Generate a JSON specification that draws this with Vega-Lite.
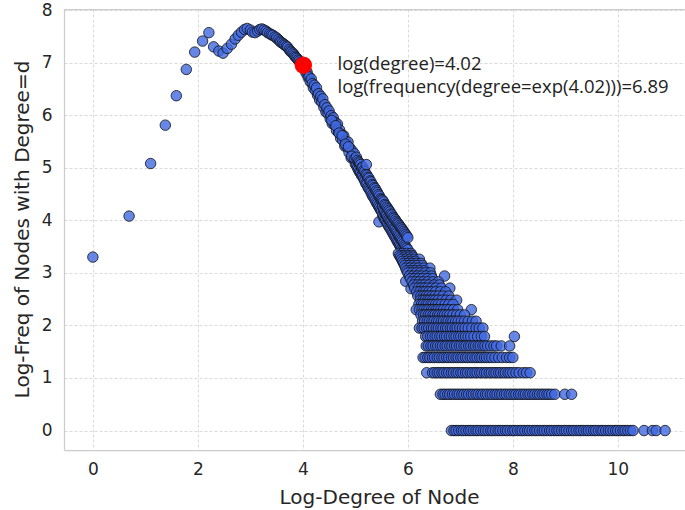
{
"$schema":"https://vega.github.io/schema/vega-lite/v6.json",
"width":621,"height":441,
"autosize":{"type":"none"},
"padding":{"left":64,"top":9,"right":0,"bottom":60},
"background":"#ffffff",
"config":{"view":{"stroke":null},
"axis":{"labelFont":"DejaVu Sans","labelFontSize":17,"labelColor":"#262626","titleFont":"DejaVu Sans","titleFontSize":20,"titleFontWeight":"normal","titleColor":"#262626","domainColor":"#cccccc","domainWidth":1.25,"ticks":false,"gridColor":"#d0d0d0","gridDash":[3,2],"gridWidth":0.8}},
"datasets":{
"pts":[
{"x":0,"y":3.3},{"x":0.69,"y":4.08},{"x":1.1,"y":5.08},{"x":1.38,"y":5.81},{"x":1.59,"y":6.37},{"x":1.78,"y":6.87},{"x":1.94,"y":7.2},{"x":2.09,"y":7.41},{"x":2.21,"y":7.57},
{"x":2.3,"y":7.3},{"x":2.4,"y":7.22},{"x":2.48,"y":7.18},{"x":2.56,"y":7.27},{"x":2.64,"y":7.35},{"x":2.71,"y":7.45},{"x":2.77,"y":7.52},{"x":2.83,"y":7.58},{"x":2.89,"y":7.63},{"x":2.94,"y":7.65},{"x":3.0,"y":7.62},{"x":3.04,"y":7.58},{"x":3.09,"y":7.57},{"x":3.14,"y":7.6},{"x":3.18,"y":7.63},{"x":3.22,"y":7.64},{"x":3.26,"y":7.62},{"x":3.3,"y":7.6},{"x":3.33,"y":7.57},{"x":3.37,"y":7.55},{"x":3.4,"y":7.53},{"x":3.43,"y":7.52},{"x":3.47,"y":7.49},{"x":3.5,"y":7.47},{"x":3.53,"y":7.44},{"x":3.56,"y":7.41},{"x":3.58,"y":7.39},{"x":3.61,"y":7.37},{"x":3.64,"y":7.35},{"x":3.66,"y":7.33},{"x":3.69,"y":7.31},{"x":3.71,"y":7.29},{"x":3.74,"y":7.25},{"x":3.76,"y":7.22},{"x":3.78,"y":7.2},{"x":3.81,"y":7.18},{"x":3.83,"y":7.15},{"x":3.85,"y":7.12},{"x":3.87,"y":7.1},{"x":3.89,"y":7.08},{"x":3.91,"y":7.05},{"x":3.93,"y":7.03},{"x":3.95,"y":7.0},{"x":3.97,"y":6.98},{"x":3.99,"y":6.96},{"x":4.01,"y":6.93},
{"x":4.04,"y":6.89},{"x":4.06,"y":6.8},{"x":4.08,"y":6.82},{"x":4.1,"y":6.72},{"x":4.12,"y":6.73},{"x":4.14,"y":6.64},{"x":4.16,"y":6.69},{"x":4.18,"y":6.6},{"x":4.2,"y":6.52},{"x":4.22,"y":6.57},{"x":4.24,"y":6.47},{"x":4.26,"y":6.52},{"x":4.28,"y":6.38},{"x":4.3,"y":6.41},{"x":4.32,"y":6.29},{"x":4.34,"y":6.36},{"x":4.36,"y":6.25},{"x":4.38,"y":6.31},{"x":4.4,"y":6.15},{"x":4.42,"y":6.2},{"x":4.44,"y":6.06},{"x":4.46,"y":6.14},{"x":4.48,"y":6.03},{"x":4.5,"y":6.08},{"x":4.52,"y":5.93},{"x":4.54,"y":5.99},{"x":4.56,"y":5.84},{"x":4.58,"y":5.95},{"x":4.6,"y":5.82},{"x":4.62,"y":5.86},{"x":4.64,"y":5.71},{"x":4.66,"y":5.83},{"x":4.68,"y":5.67},{"x":4.7,"y":5.72},{"x":4.72,"y":5.56},{"x":4.74,"y":5.63},{"x":4.76,"y":5.52},{"x":4.78,"y":5.61},{"x":4.8,"y":5.41},{"x":4.82,"y":5.5},{"x":4.84,"y":5.4},{"x":4.86,"y":5.49},{"x":4.88,"y":5.29},{"x":4.9,"y":5.37},{"x":4.92,"y":5.19},{"x":4.94,"y":5.32},{"x":4.96,"y":5.18},{"x":4.98,"y":5.27},{"x":5.0,"y":5.07},
{"x":4.55,"y":5.9},{"x":4.63,"y":5.8},{"x":4.69,"y":5.66},{"x":4.75,"y":5.61},{"x":4.81,"y":5.45},{"x":4.87,"y":5.4},{"x":4.93,"y":5.22},{"x":4.99,"y":5.17},
{"x":5.02,"y":5.2},{"x":5.02,"y":5.05},{"x":5.04,"y":5.0},{"x":5.04,"y":5.14},{"x":5.06,"y":5.11},{"x":5.06,"y":4.96},{"x":5.08,"y":4.92},{"x":5.08,"y":5.09},{"x":5.1,"y":5.06},{"x":5.1,"y":4.9},{"x":5.12,"y":4.85},{"x":5.12,"y":5.0},{"x":5.14,"y":5.01},{"x":5.14,"y":4.84},{"x":5.16,"y":4.79},{"x":5.16,"y":4.95},{"x":5.18,"y":4.93},{"x":5.18,"y":4.75},{"x":5.2,"y":4.7},{"x":5.2,"y":4.88},{"x":5.21,"y":5.06},{"x":5.22,"y":4.86},{"x":5.22,"y":4.69},{"x":5.24,"y":4.63},{"x":5.24,"y":4.82},{"x":5.26,"y":4.8},{"x":5.26,"y":4.6},{"x":5.28,"y":4.57},{"x":5.28,"y":4.75},{"x":5.3,"y":4.73},{"x":5.3,"y":4.53},{"x":5.32,"y":4.48},{"x":5.32,"y":4.68},{"x":5.34,"y":4.66},{"x":5.34,"y":4.45},{"x":5.36,"y":4.42},{"x":5.36,"y":4.62},{"x":5.38,"y":4.6},{"x":5.38,"y":4.38},{"x":5.4,"y":4.34},{"x":5.4,"y":4.56},{"x":5.42,"y":4.53},{"x":5.42,"y":4.31},{"x":5.44,"y":4.27},{"x":5.44,"y":4.49},{"x":5.45,"y":3.97},{"x":5.46,"y":4.46},{"x":5.46,"y":4.24},{"x":5.48,"y":4.2},{"x":5.48,"y":4.41},{"x":5.5,"y":4.39},{"x":5.5,"y":4.17},
{"x":5.52,"y":4.1},{"x":5.52,"y":4.27},{"x":5.52,"y":4.38},{"x":5.54,"y":4.35},{"x":5.54,"y":4.06},{"x":5.54,"y":4.2},{"x":5.56,"y":4.02},{"x":5.56,"y":4.3},{"x":5.56,"y":4.16},{"x":5.58,"y":4.28},{"x":5.58,"y":4.0},{"x":5.58,"y":4.12},{"x":5.6,"y":3.95},{"x":5.6,"y":4.25},{"x":5.6,"y":4.1},{"x":5.62,"y":4.22},{"x":5.62,"y":3.92},{"x":5.62,"y":4.05},{"x":5.64,"y":3.88},{"x":5.64,"y":4.19},{"x":5.64,"y":4.02},{"x":5.66,"y":4.16},{"x":5.66,"y":3.85},{"x":5.66,"y":3.99},{"x":5.68,"y":3.82},{"x":5.68,"y":4.12},{"x":5.68,"y":3.97},{"x":5.7,"y":4.1},{"x":5.7,"y":3.78},{"x":5.7,"y":3.93},{"x":5.72,"y":3.75},{"x":5.72,"y":4.06},{"x":5.72,"y":3.9},{"x":5.74,"y":4.04},{"x":5.74,"y":3.71},{"x":5.74,"y":3.86},{"x":5.76,"y":3.68},{"x":5.76,"y":4.01},{"x":5.76,"y":3.84},{"x":5.78,"y":3.98},{"x":5.78,"y":3.64},{"x":5.78,"y":3.8},{"x":5.8,"y":3.6},{"x":5.8,"y":3.95},{"x":5.8,"y":3.77},{"x":5.82,"y":3.93},{"x":5.82,"y":3.57},{"x":5.82,"y":3.73},{"x":5.84,"y":3.53},{"x":5.84,"y":3.9},{"x":5.84,"y":3.7},{"x":5.86,"y":3.87},{"x":5.86,"y":3.5},{"x":5.86,"y":3.66},{"x":5.88,"y":3.46},{"x":5.88,"y":3.85},{"x":5.88,"y":3.63},{"x":5.9,"y":3.82},{"x":5.9,"y":3.43},{"x":5.9,"y":3.6},{"x":5.92,"y":3.4},{"x":5.92,"y":3.79},{"x":5.92,"y":3.56},{"x":5.94,"y":3.76},{"x":5.94,"y":3.36},{"x":5.94,"y":3.53},{"x":5.96,"y":3.33},{"x":5.96,"y":3.73},{"x":5.96,"y":3.5},{"x":5.98,"y":3.7},{"x":5.98,"y":3.3},{"x":5.98,"y":3.47},{"x":6.0,"y":3.27},{"x":6.0,"y":3.67},{"x":6.0,"y":3.44},
{"x":5.96,"y":2.84},{"x":6.06,"y":2.7},
{"x":5.82,"y":3.37},{"x":5.9,"y":3.37},{"x":5.98,"y":3.37},{"x":6.06,"y":3.37},
{"x":5.84,"y":3.33},{"x":5.92,"y":3.33},{"x":6.0,"y":3.33},{"x":6.08,"y":3.33},
{"x":5.86,"y":3.3},{"x":5.94,"y":3.3},{"x":6.02,"y":3.3},{"x":6.1,"y":3.3},
{"x":5.88,"y":3.26},{"x":5.96,"y":3.26},{"x":6.04,"y":3.26},{"x":6.12,"y":3.26},{"x":6.22,"y":3.26},
{"x":5.9,"y":3.22},{"x":5.98,"y":3.22},{"x":6.06,"y":3.22},{"x":6.14,"y":3.22},
{"x":5.92,"y":3.18},{"x":6.0,"y":3.18},{"x":6.08,"y":3.18},{"x":6.16,"y":3.18},{"x":6.25,"y":3.18},
{"x":5.94,"y":3.14},{"x":6.02,"y":3.14},{"x":6.1,"y":3.14},{"x":6.18,"y":3.14},{"x":6.28,"y":3.14},
{"x":5.96,"y":3.09},{"x":6.04,"y":3.09},{"x":6.12,"y":3.09},{"x":6.2,"y":3.09},{"x":6.3,"y":3.09},{"x":6.42,"y":3.09},
{"x":5.98,"y":3.04},{"x":6.06,"y":3.04},{"x":6.14,"y":3.04},{"x":6.22,"y":3.04},{"x":6.31,"y":3.04},
{"x":6.0,"y":3.0},{"x":6.08,"y":3.0},{"x":6.16,"y":3.0},{"x":6.24,"y":3.0},{"x":6.33,"y":3.0},{"x":6.43,"y":3.0},
{"x":6.03,"y":2.94},{"x":6.1,"y":2.94},{"x":6.18,"y":2.94},{"x":6.26,"y":2.94},{"x":6.35,"y":2.94},{"x":6.45,"y":2.94},{"x":6.7,"y":2.94},
{"x":6.05,"y":2.89},{"x":6.12,"y":2.89},{"x":6.2,"y":2.89},{"x":6.28,"y":2.89},{"x":6.37,"y":2.89},{"x":6.47,"y":2.89},
{"x":6.08,"y":2.83},{"x":6.15,"y":2.83},{"x":6.22,"y":2.83},{"x":6.3,"y":2.83},{"x":6.38,"y":2.83},{"x":6.48,"y":2.83},{"x":6.58,"y":2.83},
{"x":6.11,"y":2.77},{"x":6.18,"y":2.77},{"x":6.25,"y":2.77},{"x":6.32,"y":2.77},{"x":6.4,"y":2.77},{"x":6.5,"y":2.77},{"x":6.6,"y":2.77},
{"x":6.13,"y":2.71},{"x":6.2,"y":2.71},{"x":6.26,"y":2.71},{"x":6.32,"y":2.71},{"x":6.38,"y":2.71},{"x":6.45,"y":2.71},{"x":6.53,"y":2.71},{"x":6.64,"y":2.71},{"x":6.8,"y":2.71},
{"x":6.17,"y":2.64},{"x":6.23,"y":2.64},{"x":6.29,"y":2.64},{"x":6.34,"y":2.64},{"x":6.4,"y":2.64},{"x":6.46,"y":2.64},{"x":6.53,"y":2.64},{"x":6.62,"y":2.64},{"x":6.72,"y":2.64},
{"x":6.19,"y":2.56},{"x":6.25,"y":2.56},{"x":6.3,"y":2.56},{"x":6.35,"y":2.56},{"x":6.4,"y":2.56},{"x":6.46,"y":2.56},{"x":6.52,"y":2.56},{"x":6.59,"y":2.56},{"x":6.67,"y":2.56},{"x":6.78,"y":2.56},
{"x":6.24,"y":2.48},{"x":6.29,"y":2.48},{"x":6.33,"y":2.48},{"x":6.38,"y":2.48},{"x":6.42,"y":2.48},{"x":6.47,"y":2.48},{"x":6.52,"y":2.48},{"x":6.58,"y":2.48},{"x":6.65,"y":2.48},{"x":6.73,"y":2.48},{"x":6.82,"y":2.48},{"x":6.93,"y":2.48},
{"x":6.21,"y":2.4},{"x":6.26,"y":2.4},{"x":6.3,"y":2.4},{"x":6.35,"y":2.4},{"x":6.39,"y":2.4},{"x":6.44,"y":2.4},{"x":6.48,"y":2.4},{"x":6.53,"y":2.4},{"x":6.58,"y":2.4},{"x":6.64,"y":2.4},{"x":6.71,"y":2.4},{"x":6.78,"y":2.4},{"x":6.86,"y":2.4},
{"x":6.16,"y":2.3},{"x":6.22,"y":2.3},{"x":6.27,"y":2.3},{"x":6.31,"y":2.3},{"x":6.36,"y":2.3},{"x":6.4,"y":2.3},{"x":6.45,"y":2.3},{"x":6.49,"y":2.3},{"x":6.54,"y":2.3},{"x":6.58,"y":2.3},{"x":6.63,"y":2.3},{"x":6.68,"y":2.3},{"x":6.74,"y":2.3},{"x":6.8,"y":2.3},{"x":6.87,"y":2.3},{"x":6.95,"y":2.3},{"x":7.21,"y":2.3},
{"x":6.25,"y":2.2},{"x":6.3,"y":2.2},{"x":6.34,"y":2.2},{"x":6.39,"y":2.2},{"x":6.43,"y":2.2},{"x":6.48,"y":2.2},{"x":6.52,"y":2.2},{"x":6.57,"y":2.2},{"x":6.61,"y":2.2},{"x":6.66,"y":2.2},{"x":6.7,"y":2.2},{"x":6.75,"y":2.2},{"x":6.8,"y":2.2},{"x":6.86,"y":2.2},{"x":6.93,"y":2.2},{"x":7.0,"y":2.2},{"x":7.08,"y":2.2},
{"x":6.28,"y":2.08},{"x":6.32,"y":2.08},{"x":6.37,"y":2.08},{"x":6.41,"y":2.08},{"x":6.46,"y":2.08},{"x":6.5,"y":2.08},{"x":6.55,"y":2.08},{"x":6.59,"y":2.08},{"x":6.64,"y":2.08},{"x":6.68,"y":2.08},{"x":6.73,"y":2.08},{"x":6.77,"y":2.08},{"x":6.82,"y":2.08},{"x":6.86,"y":2.08},{"x":6.91,"y":2.08},{"x":6.96,"y":2.08},{"x":7.02,"y":2.08},{"x":7.08,"y":2.08},{"x":7.15,"y":2.08},{"x":7.23,"y":2.08},{"x":7.3,"y":2.08},
{"x":6.22,"y":1.95},{"x":6.27,"y":1.95},{"x":6.31,"y":1.95},{"x":6.36,"y":1.95},{"x":6.4,"y":1.95},{"x":6.45,"y":1.95},{"x":6.49,"y":1.95},{"x":6.54,"y":1.95},{"x":6.58,"y":1.95},{"x":6.63,"y":1.95},{"x":6.67,"y":1.95},{"x":6.72,"y":1.95},{"x":6.76,"y":1.95},{"x":6.81,"y":1.95},{"x":6.85,"y":1.95},{"x":6.9,"y":1.95},{"x":6.94,"y":1.95},{"x":6.99,"y":1.95},{"x":7.04,"y":1.95},{"x":7.09,"y":1.95},{"x":7.15,"y":1.95},{"x":7.22,"y":1.95},{"x":7.3,"y":1.95},{"x":7.36,"y":1.95},{"x":7.43,"y":1.95},
{"x":6.34,"y":1.79},{"x":6.38,"y":1.79},{"x":6.43,"y":1.79},{"x":6.47,"y":1.79},{"x":6.52,"y":1.79},{"x":6.56,"y":1.79},{"x":6.61,"y":1.79},{"x":6.65,"y":1.79},{"x":6.7,"y":1.79},{"x":6.74,"y":1.79},{"x":6.79,"y":1.79},{"x":6.83,"y":1.79},{"x":6.88,"y":1.79},{"x":6.92,"y":1.79},{"x":6.97,"y":1.79},{"x":7.01,"y":1.79},{"x":7.06,"y":1.79},{"x":7.1,"y":1.79},{"x":7.15,"y":1.79},{"x":7.2,"y":1.79},{"x":7.26,"y":1.79},{"x":7.33,"y":1.79},{"x":7.4,"y":1.79},{"x":7.46,"y":1.79},{"x":8.03,"y":1.79},
{"x":6.35,"y":1.61},{"x":6.39,"y":1.61},{"x":6.44,"y":1.61},{"x":6.48,"y":1.61},{"x":6.53,"y":1.61},{"x":6.57,"y":1.61},{"x":6.62,"y":1.61},{"x":6.66,"y":1.61},{"x":6.71,"y":1.61},{"x":6.75,"y":1.61},{"x":6.8,"y":1.61},{"x":6.84,"y":1.61},{"x":6.89,"y":1.61},{"x":6.93,"y":1.61},{"x":6.98,"y":1.61},{"x":7.02,"y":1.61},{"x":7.07,"y":1.61},{"x":7.11,"y":1.61},{"x":7.16,"y":1.61},{"x":7.2,"y":1.61},{"x":7.25,"y":1.61},{"x":7.29,"y":1.61},{"x":7.34,"y":1.61},{"x":7.38,"y":1.61},{"x":7.43,"y":1.61},{"x":7.47,"y":1.61},{"x":7.52,"y":1.61},{"x":7.58,"y":1.61},{"x":7.64,"y":1.61},{"x":7.69,"y":1.61},{"x":7.78,"y":1.61},{"x":7.94,"y":1.61},
{"x":6.29,"y":1.39},{"x":6.33,"y":1.39},{"x":6.38,"y":1.39},{"x":6.42,"y":1.39},{"x":6.47,"y":1.39},{"x":6.51,"y":1.39},{"x":6.56,"y":1.39},{"x":6.6,"y":1.39},{"x":6.65,"y":1.39},{"x":6.69,"y":1.39},{"x":6.74,"y":1.39},{"x":6.78,"y":1.39},{"x":6.83,"y":1.39},{"x":6.87,"y":1.39},{"x":6.92,"y":1.39},{"x":6.96,"y":1.39},{"x":7.01,"y":1.39},{"x":7.05,"y":1.39},{"x":7.1,"y":1.39},{"x":7.14,"y":1.39},{"x":7.19,"y":1.39},{"x":7.23,"y":1.39},{"x":7.28,"y":1.39},{"x":7.32,"y":1.39},{"x":7.37,"y":1.39},{"x":7.41,"y":1.39},{"x":7.46,"y":1.39},{"x":7.5,"y":1.39},{"x":7.55,"y":1.39},{"x":7.6,"y":1.39},{"x":7.66,"y":1.39},{"x":7.73,"y":1.39},{"x":7.8,"y":1.39},{"x":7.88,"y":1.39},{"x":7.94,"y":1.39},{"x":8.0,"y":1.39},
{"x":6.36,"y":1.1},{"x":6.47,"y":1.1},{"x":6.51,"y":1.1},{"x":6.56,"y":1.1},{"x":6.6,"y":1.1},{"x":6.65,"y":1.1},{"x":6.69,"y":1.1},{"x":6.74,"y":1.1},{"x":6.78,"y":1.1},{"x":6.83,"y":1.1},{"x":6.87,"y":1.1},{"x":6.92,"y":1.1},{"x":6.96,"y":1.1},{"x":7.01,"y":1.1},{"x":7.05,"y":1.1},{"x":7.1,"y":1.1},{"x":7.14,"y":1.1},{"x":7.19,"y":1.1},{"x":7.23,"y":1.1},{"x":7.28,"y":1.1},{"x":7.32,"y":1.1},{"x":7.37,"y":1.1},{"x":7.41,"y":1.1},{"x":7.46,"y":1.1},{"x":7.5,"y":1.1},{"x":7.55,"y":1.1},{"x":7.59,"y":1.1},{"x":7.64,"y":1.1},{"x":7.68,"y":1.1},{"x":7.73,"y":1.1},{"x":7.77,"y":1.1},{"x":7.82,"y":1.1},{"x":7.86,"y":1.1},{"x":7.91,"y":1.1},{"x":7.95,"y":1.1},{"x":8.0,"y":1.1},{"x":8.06,"y":1.1},{"x":8.12,"y":1.1},{"x":8.2,"y":1.1},{"x":8.26,"y":1.1},{"x":8.33,"y":1.1},
{"x":6.62,"y":0.69},{"x":6.67,"y":0.69},{"x":6.71,"y":0.69},{"x":6.76,"y":0.69},{"x":6.8,"y":0.69},{"x":6.85,"y":0.69},{"x":6.89,"y":0.69},{"x":6.94,"y":0.69},{"x":6.98,"y":0.69},{"x":7.03,"y":0.69},{"x":7.07,"y":0.69},{"x":7.12,"y":0.69},{"x":7.16,"y":0.69},{"x":7.21,"y":0.69},{"x":7.25,"y":0.69},{"x":7.3,"y":0.69},{"x":7.34,"y":0.69},{"x":7.39,"y":0.69},{"x":7.43,"y":0.69},{"x":7.48,"y":0.69},{"x":7.52,"y":0.69},{"x":7.57,"y":0.69},{"x":7.61,"y":0.69},{"x":7.66,"y":0.69},{"x":7.7,"y":0.69},{"x":7.75,"y":0.69},{"x":7.79,"y":0.69},{"x":7.84,"y":0.69},{"x":7.88,"y":0.69},{"x":7.93,"y":0.69},{"x":7.97,"y":0.69},{"x":8.02,"y":0.69},{"x":8.06,"y":0.69},{"x":8.11,"y":0.69},{"x":8.15,"y":0.69},{"x":8.2,"y":0.69},{"x":8.24,"y":0.69},{"x":8.29,"y":0.69},{"x":8.33,"y":0.69},{"x":8.38,"y":0.69},{"x":8.42,"y":0.69},{"x":8.47,"y":0.69},{"x":8.51,"y":0.69},{"x":8.56,"y":0.69},{"x":8.6,"y":0.69},{"x":8.65,"y":0.69},{"x":8.69,"y":0.69},{"x":8.74,"y":0.69},{"x":8.8,"y":0.69},{"x":8.99,"y":0.69},{"x":9.12,"y":0.69},
{"x":6.83,"y":0},{"x":6.88,"y":0},{"x":6.92,"y":0},{"x":6.97,"y":0},{"x":7.02,"y":0},{"x":7.06,"y":0},{"x":7.11,"y":0},{"x":7.16,"y":0},{"x":7.2,"y":0},{"x":7.25,"y":0},{"x":7.3,"y":0},{"x":7.34,"y":0},{"x":7.39,"y":0},{"x":7.44,"y":0},{"x":7.48,"y":0},{"x":7.53,"y":0},{"x":7.58,"y":0},{"x":7.62,"y":0},{"x":7.67,"y":0},{"x":7.72,"y":0},{"x":7.76,"y":0},{"x":7.81,"y":0},{"x":7.86,"y":0},{"x":7.9,"y":0},{"x":7.95,"y":0},{"x":8.0,"y":0},{"x":8.04,"y":0},{"x":8.09,"y":0},{"x":8.14,"y":0},{"x":8.18,"y":0},{"x":8.23,"y":0},{"x":8.28,"y":0},{"x":8.32,"y":0},{"x":8.37,"y":0},{"x":8.42,"y":0},{"x":8.46,"y":0},{"x":8.51,"y":0},{"x":8.56,"y":0},{"x":8.6,"y":0},{"x":8.65,"y":0},{"x":8.7,"y":0},{"x":8.74,"y":0},{"x":8.79,"y":0},{"x":8.84,"y":0},{"x":8.88,"y":0},{"x":8.93,"y":0},{"x":8.98,"y":0},{"x":9.02,"y":0},{"x":9.07,"y":0},{"x":9.12,"y":0},{"x":9.16,"y":0},{"x":9.21,"y":0},{"x":9.26,"y":0},{"x":9.3,"y":0},{"x":9.35,"y":0},{"x":9.4,"y":0},{"x":9.44,"y":0},{"x":9.49,"y":0},{"x":9.54,"y":0},{"x":9.58,"y":0},{"x":9.63,"y":0},{"x":9.68,"y":0},{"x":9.72,"y":0},{"x":9.77,"y":0},{"x":9.82,"y":0},{"x":9.86,"y":0},{"x":9.91,"y":0},{"x":9.96,"y":0},{"x":10.0,"y":0},{"x":10.05,"y":0},{"x":10.1,"y":0},{"x":10.14,"y":0},{"x":10.19,"y":0},{"x":10.24,"y":0},{"x":10.29,"y":0},{"x":10.5,"y":0},{"x":10.66,"y":0},{"x":10.73,"y":0},{"x":10.9,"y":0}
],
"red":[{"x":4.01,"y":6.95}],
"ann":[{"x":4.66,"y":6.98,"label":"log(degree)=4.02"},{"x":4.66,"y":6.54,"label":"log(frequency(degree=exp(4.02)))=6.89"}]
},
"resolve":{"axis":{"x":"independent","y":"independent"}},
"layer":[
{"data":{"name":"pts"},
"mark":{"type":"circle","size":110,"fill":"#4169E1","fillOpacity":0.8,"stroke":"#111111","strokeOpacity":0.8,"strokeWidth":1},
"encoding":{
"x":{"field":"x","type":"quantitative","scale":{"domain":[-0.55,11.28],"nice":false,"zero":false},
"axis":{"orient":"bottom","values":[0,2,4,6,8,10],"title":"Log-Degree of Node","labelPadding":11,"titleX":315,"titleY":53,"titleBaseline":"alphabetic","gridDash":[3,2]}},
"y":{"field":"y","type":"quantitative","scale":{"domain":[-0.37,8.02],"nice":false,"zero":false},
"axis":{"orient":"left","values":[0,1,2,3,4,5,6,7,8],"title":"Log-Freq of Nodes with Degree=d","labelPadding":12,"titleX":-36,"titleY":220,"titleAngle":270,"titleAlign":"center","titleBaseline":"alphabetic"}}}},
{"data":{"name":"red"},
"mark":{"type":"circle","size":300,"fill":"#ff0000","opacity":1},
"encoding":{
"x":{"field":"x","type":"quantitative","axis":{"orient":"top","labels":false,"grid":false,"title":null,"ticks":false}},
"y":{"field":"y","type":"quantitative","axis":{"orient":"right","labels":false,"grid":false,"title":null,"ticks":false,"domain":false}}}},
{"data":{"name":"ann"},
"mark":{"type":"text","align":"left","baseline":"middle","font":"Open Sans","fontSize":18.5,"color":"#222222"},
"encoding":{
"x":{"field":"x","type":"quantitative","axis":null},
"y":{"field":"y","type":"quantitative","axis":null},
"text":{"field":"label"}}}
]
}
